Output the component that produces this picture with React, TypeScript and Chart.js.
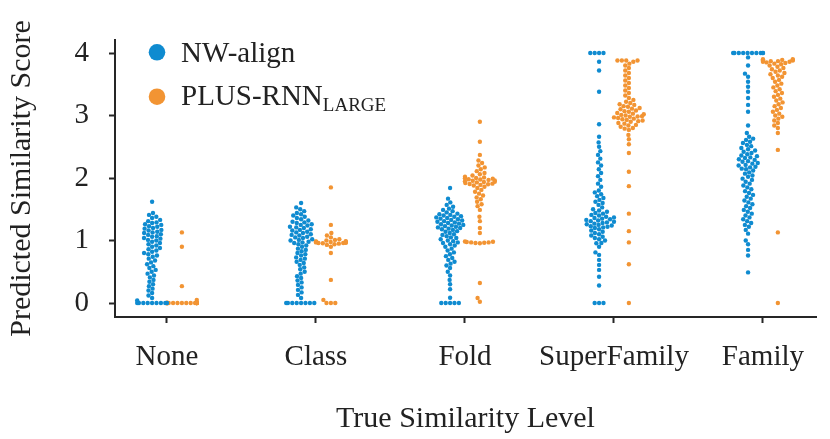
import React, { useEffect, useRef } from "react";
import { Chart, registerables } from "chart.js";
Chart.register(...registerables);

// ---------- data ----------
const categories = ["None", "Class", "Fold", "SuperFamily", "Family"];
const yTicks = [0, 1, 2, 3, 4];
const seriesNames = ["NW-align", "PLUS-RNN", "LARGE"];

const nwNone = [0, 0, 0, 0, 0, 0, 0, 0, 0, 0.04, 0.08, 0.12, 0.16, 0.2, 0.23, 0.27, 0.3, 0.34, 0.37, 0.41, 0.44,
  0.47, 0.5, 0.53, 0.56, 0.59, 0.62, 0.65, 0.68, 0.71, 0.74, 0.76, 0.78, 0.8, 0.82, 0.84, 0.86, 0.88, 0.9, 0.92, 0.94,
  0.96, 0.98, 1.0, 1.01, 1.03, 1.04, 1.06, 1.07, 1.09, 1.1, 1.12, 1.13, 1.14, 1.16, 1.17, 1.19, 1.2, 1.22, 1.23, 1.25,
  1.26, 1.28, 1.29, 1.31, 1.33, 1.36, 1.38, 1.41, 1.44, 1.62];
const plusNone = [0, 0, 0, 0, 0, 0, 0, 0, 0, 0, 0, 0, 0, 0, 0, 0, 0, 0, 0, 0, 0.05, 0.27, 0.9, 1.13];

const nwClass = [0, 0, 0, 0, 0, 0, 0, 0, 0.08, 0.13, 0.17, 0.21, 0.25, 0.29, 0.33, 0.36, 0.4, 0.43, 0.47, 0.5, 0.54,
  0.57, 0.61, 0.64, 0.66, 0.69, 0.71, 0.73, 0.76, 0.78, 0.8, 0.83, 0.85, 0.87, 0.9, 0.92, 0.94, 0.96, 0.97, 0.98, 1.0,
  1.01, 1.02, 1.04, 1.05, 1.06, 1.08, 1.09, 1.1, 1.12, 1.13, 1.14, 1.16, 1.17, 1.18, 1.2, 1.21, 1.22, 1.24, 1.25, 1.26,
  1.28, 1.29, 1.3, 1.32, 1.34, 1.36, 1.38, 1.4, 1.42, 1.44, 1.47, 1.5, 1.53, 1.6];
const plusClass = [0, 0, 0, 0.05, 0.37, 0.8, 0.9, 0.93, 0.94, 0.95, 0.955, 0.96, 0.96, 0.965, 0.97, 0.97, 0.975, 0.98,
  0.98, 0.985, 0.99, 1.0, 1.01, 1.02, 1.05, 1.08, 1.12, 1.25, 1.85];

const nwFold = [0, 0, 0, 0, 0, 0.085, 0.22, 0.3, 0.37, 0.44, 0.5, 0.56, 0.6, 0.63, 0.66, 0.69, 0.72, 0.75, 0.78, 0.81,
  0.84, 0.87, 0.9, 0.92, 0.94, 0.96, 0.97, 0.99, 1.0, 1.02, 1.04, 1.05, 1.07, 1.09, 1.1, 1.12, 1.14, 1.15, 1.17, 1.18,
  1.19, 1.2, 1.21, 1.22, 1.23, 1.24, 1.25, 1.26, 1.27, 1.28, 1.29, 1.3, 1.31, 1.32, 1.33, 1.34, 1.35, 1.36, 1.37, 1.38,
  1.39, 1.4, 1.41, 1.42, 1.43, 1.45, 1.47, 1.49, 1.51, 1.54, 1.57, 1.61, 1.67, 1.84];
const plusFold = [0.02, 0.08, 0.32, 0.955, 0.96, 0.965, 0.97, 0.97, 0.975, 0.98, 0.985, 1.12, 1.2, 1.31, 1.38, 1.49,
  1.55, 1.58, 1.62, 1.66, 1.69, 1.72, 1.75, 1.78, 1.81, 1.84, 1.86, 1.88, 1.89, 1.9, 1.905, 1.91, 1.92,
  1.93, 1.935, 1.94, 1.95, 1.955, 1.96, 1.97, 1.975, 1.98, 1.99, 1.995, 2.0, 2.01, 2.02, 2.04, 2.06, 2.08, 2.11, 2.14,
  2.17, 2.2, 2.24, 2.28, 2.37, 2.58, 2.9];

const nwSuper = [0, 0, 0, 0.28, 0.42, 0.53, 0.61, 0.69, 0.77, 0.81, 0.9, 0.955, 0.96, 1.0, 1.02, 1.04, 1.06, 1.08, 1.1,
  1.12, 1.14, 1.16, 1.18, 1.2, 1.21, 1.22, 1.23, 1.24, 1.25, 1.26, 1.27, 1.28, 1.29, 1.3, 1.31, 1.32, 1.33, 1.34, 1.35,
  1.36, 1.37, 1.38, 1.4, 1.41, 1.43, 1.44, 1.46, 1.48, 1.5, 1.53, 1.57, 1.6, 1.62, 1.65, 1.68, 1.71, 1.74, 1.77, 1.8,
  1.86, 1.91, 1.97, 2.03, 2.08, 2.14, 2.2, 2.25, 2.31, 2.37, 2.43, 2.5, 2.57, 2.66, 2.86, 3.38,
  3.72, 3.86, 4, 4, 4, 4];
const plusSuper = [0, 0.62, 0.97, 1.15, 1.43, 1.87, 2.1, 2.4, 2.54, 2.62, 2.69, 2.77, 2.79, 2.8, 2.82, 2.84, 2.85, 2.87,
  2.88, 2.9, 2.91, 2.92, 2.93, 2.94, 2.95, 2.96, 2.97, 2.98, 2.985, 2.99, 3.0, 3.01, 3.02, 3.03, 3.04, 3.06, 3.07, 3.08,
  3.1, 3.11, 3.12, 3.14, 3.15, 3.17, 3.18, 3.2, 3.22, 3.25, 3.28, 3.32, 3.36, 3.4, 3.44, 3.48, 3.52, 3.56,
  3.6, 3.64, 3.68, 3.72, 3.76, 3.8, 3.83, 3.86, 3.88, 3.88, 3.88, 3.88];

const nwFamily = [0.49, 0.76, 0.85, 0.94, 1.0, 1.11, 1.17, 1.22, 1.25, 1.28, 1.31, 1.34, 1.37, 1.4, 1.43, 1.46, 1.49,
  1.52, 1.55, 1.58, 1.61, 1.64, 1.67, 1.7, 1.73, 1.76, 1.79, 1.82, 1.85, 1.88, 1.91, 1.94, 1.97, 1.99, 2.02, 2.04, 2.07,
  2.09, 2.12, 2.14, 2.15, 2.17, 2.18, 2.2, 2.21, 2.23, 2.24, 2.26, 2.27, 2.29, 2.3, 2.32, 2.33, 2.35, 2.36, 2.38, 2.4,
  2.42, 2.44, 2.46, 2.48, 2.51, 2.53, 2.56, 2.58, 2.61, 2.63, 2.66, 2.72, 2.84, 3.06, 3.17, 3.28, 3.38, 3.46, 3.54,
  3.62, 3.67, 3.8, 3.93, 4, 4, 4, 4, 4, 4, 4, 4, 4, 4];
const plusFamily = [0, 1.13, 2.45, 2.72, 2.8, 2.84, 2.88, 2.92, 2.95, 2.98, 3.0, 3.03, 3.06, 3.09, 3.12, 3.15, 3.18,
  3.21, 3.24, 3.27, 3.3, 3.33, 3.36, 3.39, 3.42, 3.45, 3.48, 3.51, 3.54, 3.57, 3.6, 3.62, 3.64, 3.66, 3.68, 3.7, 3.72,
  3.74, 3.76, 3.78, 3.8, 3.82, 3.83, 3.84, 3.85, 3.86, 3.86, 3.87, 3.87, 3.88, 3.88, 3.89, 3.89, 3.9, 3.9];

const nwGroups = [nwNone, nwClass, nwFold, nwSuper, nwFamily];
const plusGroups = [plusNone, plusClass, plusFold, plusSuper, plusFamily];

// ---------- style ----------
const BLUE = "#0f8bd0";
const ORANGE = "#f29433";
const INK = "#222222";
const SPINE = "#262626";
const FONT = "'Liberation Serif', 'Times New Roman', serif";
const POINT_R = 2.2;
const DODGE = 0.1;
const HALF_WIDTH = 0.1;

function swarmOffsets(values: number[], sy: number, d: number, limit: number): number[] {
  const order = values.map((_, i) => i).sort((a, b) => values[a] - values[b]);
  const placed: { x: number; y: number }[] = [];
  const out = new Array(values.length).fill(0);
  for (const i of order) {
    const y = values[i] * sy;
    const neigh = placed.filter((p) => Math.abs(p.y - y) < d);
    const cands = [0];
    for (const p of neigh) {
      const dx = Math.sqrt(Math.max(0, d * d - (p.y - y) * (p.y - y)));
      cands.push(p.x - dx, p.x + dx);
    }
    cands.sort((a, b) => Math.abs(a) - Math.abs(b));
    let chosen = cands[cands.length - 1];
    for (const c of cands) {
      if (neigh.every((p) => (p.x - c) ** 2 + (p.y - y) ** 2 >= d * d - 1e-6)) {
        chosen = c;
        break;
      }
    }
    placed.push({ x: chosen, y });
    out[i] = Math.max(-limit, Math.min(limit, chosen));
  }
  return out;
}

function buildPoints(groups: number[][], shift: number, sx: number, sy: number) {
  const pts: { x: number; y: number }[] = [];
  groups.forEach((vals, ci) => {
    const offs = swarmOffsets(vals, sy, POINT_R * 2, HALF_WIDTH * sx);
    vals.forEach((v, k) => pts.push({ x: ci + shift + offs[k] / sx, y: v }));
  });
  return pts;
}

const legendPlugin = {
  id: "swarmLegend",
  afterDraw(chart: any) {
    const ctx = chart.ctx as CanvasRenderingContext2D;
    const { left, top } = chart.chartArea;
    ctx.save();
    const rows = [
      { color: BLUE, cy: top + 12.3, base: top + 21.7, text: seriesNames[0], sub: "" },
      { color: ORANGE, cy: top + 56.7, base: top + 65, text: seriesNames[1], sub: seriesNames[2] },
    ];
    for (const r of rows) {
      ctx.fillStyle = r.color;
      ctx.beginPath();
      ctx.arc(left + 42, r.cy, 8.3, 0, Math.PI * 2);
      ctx.fill();
      ctx.fillStyle = INK;
      ctx.font = `29px ${FONT}`;
      ctx.textBaseline = "alphabetic";
      ctx.textAlign = "left";
      ctx.fillText(r.text, left + 66, r.base);
      if (r.sub) {
        const w = ctx.measureText(r.text).width;
        ctx.font = `19px ${FONT}`;
        ctx.fillText(r.sub, left + 66 + w, r.base + 6);
      }
    }
    ctx.restore();
  },
};

export default function App() {
  const ref = useRef<HTMLCanvasElement>(null);
  useEffect(() => {
    document.body.style.margin = "0";
    const canvas = ref.current!;
    const chart = new Chart(canvas, {
      type: "scatter",
      data: {
        datasets: [
          { label: seriesNames[0], data: [], backgroundColor: BLUE, pointRadius: POINT_R, pointBorderWidth: 0 },
          { label: seriesNames[1], data: [], backgroundColor: ORANGE, pointRadius: POINT_R, pointBorderWidth: 0 },
        ],
      },
      options: {
        animation: false,
        responsive: false,
        devicePixelRatio: 1,
        layout: { padding: { top: 40, right: 14, left: 0, bottom: 0 } },
        plugins: { legend: { display: false }, tooltip: { enabled: false } },
        scales: {
          x: {
            type: "linear",
            min: -0.349,
            max: 4.356,
            afterBuildTicks: (s: any) => {
              s.ticks = categories.map((_, i) => ({ value: i }));
            },
            afterFit: (s: any) => {
              s.height = 122;
            },
            grid: { display: true, drawOnChartArea: false, drawTicks: true, tickLength: 6, tickWidth: 2, tickColor: SPINE },
            border: { display: true, color: SPINE, width: 2 },
            ticks: {
              autoSkip: false,
              maxRotation: 0,
              padding: 17,
              color: INK,
              font: { family: FONT, size: 29 },
              callback: (v: any) => categories[Number(v)] ?? "",
            },
            title: {
              display: true,
              text: "True Similarity Level",
              color: INK,
              font: { family: FONT, size: 30 },
              padding: { top: 0, bottom: 2 },
            },
          },
          y: {
            type: "linear",
            min: -0.224,
            max: 4.208,
            afterBuildTicks: (s: any) => {
              s.ticks = yTicks.map((v) => ({ value: v }));
            },
            afterFit: (s: any) => {
              s.width = 115;
            },
            grid: { display: true, drawOnChartArea: false, drawTicks: true, tickLength: 6, tickWidth: 2, tickColor: SPINE },
            border: { display: true, color: SPINE, width: 2 },
            ticks: {
              padding: 20,
              color: INK,
              font: { family: FONT, size: 29 },
              callback: (v: any) => String(v),
            },
            title: {
              display: true,
              text: "Predicted Similarity Score",
              color: INK,
              font: { family: FONT, size: 30 },
              padding: { top: 4, bottom: 0 },
            },
          },
        },
      },
      plugins: [legendPlugin],
    });
    const xs = chart.scales.x;
    const ys = chart.scales.y;
    const sx = xs.getPixelForValue(1) - xs.getPixelForValue(0);
    const sy = ys.getPixelForValue(0) - ys.getPixelForValue(1);
    chart.data.datasets[0].data = buildPoints(nwGroups, -DODGE, sx, sy);
    chart.data.datasets[1].data = buildPoints(plusGroups, DODGE, sx, sy);
    chart.update();
    return () => chart.destroy();
  }, []);
  return (
    <div style={{ width: 830, height: 439 }}>
      <canvas ref={ref} width={830} height={439} style={{ display: "block" }} />
    </div>
  );
}
